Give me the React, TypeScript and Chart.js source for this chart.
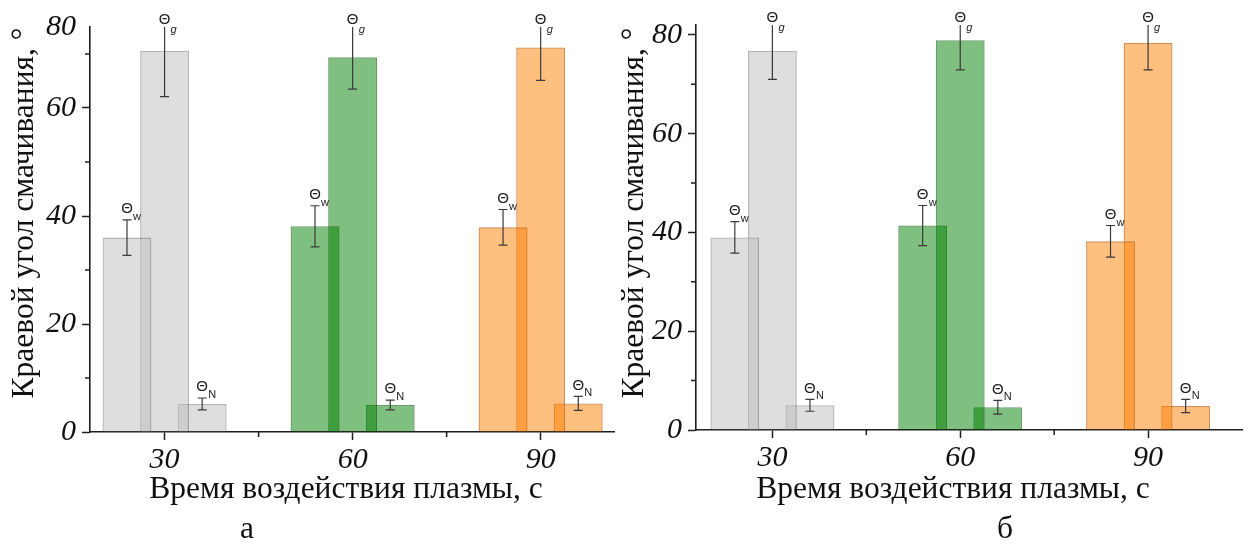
import React, { useEffect, useRef } from 'react';
import { Chart, registerables } from 'chart.js';

Chart.register(...registerables);

// Plasma exposure time, s
const exposureTimes = [30, 60, 90];
const xTickLabels = ['30', '60', '90'];
const xMinorTicks = [45, 75];
const yMajorTicks = [0, 20, 40, 60, 80];
const yMinorTicks = [10, 30, 50, 70];

// Subscripts of the three contact angles
const seriesSubscripts = ['w', 'g', 'N'];

// Panel а — contact angle, degrees, and its spread
const thetaW_a = [36.0, 38.1, 37.9];
const thetaWErr_a = [3.3, 3.8, 3.3];
const thetaG_a = [70.6, 69.4, 71.2];
const thetaGErr_a = [8.5, 5.9, 6.1];
const thetaN_a = [5.2, 5.0, 5.3];
const thetaNErr_a = [1.1, 0.9, 1.3];

// Panel б
const thetaW_b = [39.0, 41.4, 38.2];
const thetaWErr_b = [3.2, 4.05, 3.2];
const thetaG_b = [76.8, 78.9, 78.4];
const thetaGErr_b = [5.8, 6.0, 5.5];
const thetaN_b = [5.0, 4.6, 4.85];
const thetaNErr_b = [1.2, 1.4, 1.35];

const yTitle = 'Краевой угол смачивания, °';
const xTitle = 'Время воздействия плазмы, с';

// One colour per exposure time (gray, green, orange), translucent so overlaps darken
const groupFill = ['rgba(190,190,190,0.5)', 'rgba(0,128,0,0.5)', 'rgba(255,128,0,0.5)'];
const groupBorder = ['rgba(90,90,90,0.45)', 'rgba(0,90,0,0.6)', 'rgba(190,100,20,0.7)'];
const axisColor = '#1e1e1e';
const errorColor = '#3a3a3a';
const textColor = '#111';
const serif = '"Liberation Serif", "Times New Roman", serif';
const sans = '"Liberation Sans", Arial, sans-serif';

type Panel = {
  values: number[][];
  errors: number[][];
  letter: string;
  xMin: number;
  xMax: number;
  yMax: number;
  yEndLabel: string | null;
  canvasLeft: number;
  canvasWidth: number;
  padTop: number;
  padRight: number;
  xAxisHeight: number;
  yTitlePos: [number, number];
  xTitlePos: [number, number];
  letterPos: [number, number];
};

const panelA: Panel = {
  values: [thetaW_a, thetaG_a, thetaN_a],
  errors: [thetaWErr_a, thetaGErr_a, thetaNErr_a],
  letter: 'а',
  xMin: 18.1,
  xMax: 101.7,
  yMax: 75,
  yEndLabel: '80',
  canvasLeft: 0,
  canvasWidth: 626,
  padTop: 27,
  padRight: 12,
  xAxisHeight: 118,
  yTitlePos: [25, 213],
  xTitlePos: [346, 490],
  letterPos: [247, 538],
};

const panelB: Panel = {
  values: [thetaW_b, thetaG_b, thetaN_b],
  errors: [thetaWErr_b, thetaGErr_b, thetaNErr_b],
  letter: 'б',
  xMin: 17.8,
  xMax: 105,
  yMax: 82,
  yEndLabel: null,
  canvasLeft: 606,
  canvasWidth: 646,
  padTop: 25,
  padRight: 10,
  xAxisHeight: 120,
  yTitlePos: [29, 213],
  xTitlePos: [347, 490],
  letterPos: [399, 538],
};

const CANVAS_HEIGHT = 550;

function marksPlugin(panel: Panel) {
  return {
    id: 'panelMarks',
    afterDatasetsDraw(chart: any) {
      const { ctx, chartArea: area } = chart;
      const y = chart.scales.y;
      ctx.save();
      chart.data.datasets.forEach((ds: any, di: number) => {
        const meta = chart.getDatasetMeta(di);
        meta.data.forEach((bar: any, i: number) => {
          const v = ds.data[i].y;
          const e = panel.errors[di][i];
          const px = bar.x;
          const hi = y.getPixelForValue(v + e);
          const lo = y.getPixelForValue(v - e);
          const clipped = hi < area.top;
          const top = clipped ? area.top : hi;
          const cap = 4.5;
          ctx.strokeStyle = errorColor;
          ctx.lineWidth = 1.2;
          ctx.beginPath();
          ctx.moveTo(px, lo);
          ctx.lineTo(px, top);
          ctx.moveTo(px - cap, lo);
          ctx.lineTo(px + cap, lo);
          if (!clipped) {
            ctx.moveTo(px - cap, hi);
            ctx.lineTo(px + cap, hi);
          }
          ctx.stroke();

          const sub = seriesSubscripts[di];
          ctx.fillStyle = '#222';
          ctx.font = `15px ${sans}`;
          ctx.textAlign = 'center';
          ctx.textBaseline = 'middle';
          ctx.fillText('Θ', px, top - (clipped ? 7 : 11));
          ctx.font = `${sub === 'g' ? 'italic ' : ''}11px ${sans}`;
          ctx.textAlign = 'left';
          ctx.fillText(sub, px + 6, top + (clipped ? 3 : -3));
        });
      });
      ctx.restore();
    },
    afterDraw(chart: any) {
      const { ctx, chartArea: area } = chart;
      const { x, y } = chart.scales;
      ctx.save();
      // shorter minor ticks on both axes
      ctx.strokeStyle = axisColor;
      ctx.lineWidth = 1.5;
      ctx.beginPath();
      xMinorTicks.forEach((v) => {
        const px = x.getPixelForValue(v);
        ctx.moveTo(px, area.bottom);
        ctx.lineTo(px, area.bottom + 5);
      });
      yMinorTicks
        .filter((v) => v <= panel.yMax)
        .forEach((v) => {
          const py = y.getPixelForValue(v);
          ctx.moveTo(area.left - 5, py);
          ctx.lineTo(area.left, py);
        });
      ctx.stroke();

      // axis titles and panel letter
      ctx.fillStyle = textColor;
      ctx.font = `31.5px ${serif}`;
      ctx.textAlign = 'center';
      ctx.textBaseline = 'middle';
      ctx.save();
      ctx.translate(panel.yTitlePos[0], panel.yTitlePos[1]);
      ctx.rotate(-Math.PI / 2);
      ctx.fillText(yTitle, 0, 0);
      ctx.restore();
      ctx.fillText(xTitle, panel.xTitlePos[0], panel.xTitlePos[1]);
      ctx.textBaseline = 'alphabetic';
      ctx.fillText(panel.letter, panel.letterPos[0], panel.letterPos[1]);
      ctx.restore();
    },
  };
}

function buildConfig(panel: Panel): any {
  const tickFont = { family: serif, size: 30, style: 'italic' as const };
  return {
    type: 'bar',
    data: {
      datasets: panel.values.map((vals, si) => ({
        label: 'Θ' + seriesSubscripts[si],
        data: exposureTimes.map((t, i) => ({ x: t, y: vals[i] })),
        backgroundColor: groupFill,
        borderColor: groupBorder,
        borderWidth: 1.3,
        categoryPercentage: 0.6,
        barPercentage: 1.3,
      })),
    },
    options: {
      animation: false,
      responsive: false,
      maintainAspectRatio: false,
      layout: { padding: { left: 0, right: panel.padRight, top: panel.padTop, bottom: 0 } },
      plugins: { legend: { display: false }, tooltip: { enabled: false }, title: { display: false } },
      scales: {
        x: {
          type: 'linear',
          offset: false,
          min: panel.xMin,
          max: panel.xMax,
          afterBuildTicks: (scale: any) => {
            scale.ticks = exposureTimes.map((v) => ({ value: v }));
          },
          afterFit: (scale: any) => {
            scale.height = panel.xAxisHeight;
          },
          ticks: {
            autoSkip: false,
            maxRotation: 0,
            padding: 2,
            color: textColor,
            font: tickFont,
            callback: (value: number) => xTickLabels[exposureTimes.indexOf(value)] ?? '',
          },
          grid: {
            display: true,
            offset: false,
            drawOnChartArea: false,
            drawTicks: true,
            tickLength: 8,
            tickWidth: 1.5,
            tickColor: axisColor,
          },
          border: { display: true, color: axisColor, width: 1.6 },
        },
        y: {
          type: 'linear',
          min: 0,
          max: panel.yMax,
          afterBuildTicks: (scale: any) => {
            const ticks = yMajorTicks.filter((v) => v <= panel.yMax).map((v) => ({ value: v }));
            if (panel.yEndLabel) ticks.push({ value: panel.yMax });
            scale.ticks = ticks;
          },
          afterFit: (scale: any) => {
            scale.width = 90;
          },
          ticks: {
            autoSkip: false,
            padding: 6,
            color: textColor,
            font: tickFont,
            callback: (value: number) =>
              panel.yEndLabel && value === panel.yMax ? panel.yEndLabel : String(value),
          },
          grid: {
            display: true,
            drawOnChartArea: false,
            drawTicks: true,
            tickLength: 8,
            tickWidth: 1.5,
            tickColor: (c: any) =>
              panel.yEndLabel && c.tick && c.tick.value === panel.yMax ? 'rgba(0,0,0,0)' : axisColor,
          },
          border: { display: true, color: axisColor, width: 1.6 },
        },
      },
    },
    plugins: [marksPlugin(panel)],
  };
}

function PanelChart({ panel }: { panel: Panel }) {
  const ref = useRef<HTMLCanvasElement>(null);
  useEffect(() => {
    if (!ref.current) return;
    const chart = new Chart(ref.current, buildConfig(panel));
    return () => chart.destroy();
  }, [panel]);
  return (
    <canvas
      ref={ref}
      width={panel.canvasWidth}
      height={CANVAS_HEIGHT}
      style={{
        position: 'absolute',
        left: panel.canvasLeft,
        top: 0,
        width: panel.canvasWidth,
        height: CANVAS_HEIGHT,
      }}
    />
  );
}

export default function App() {
  return (
    <div
      style={{
        position: 'absolute',
        left: 0,
        top: 0,
        width: 1252,
        height: CANVAS_HEIGHT,
        background: '#fff',
        overflow: 'hidden',
      }}
    >
      <PanelChart panel={panelA} />
      <PanelChart panel={panelB} />
    </div>
  );
}
